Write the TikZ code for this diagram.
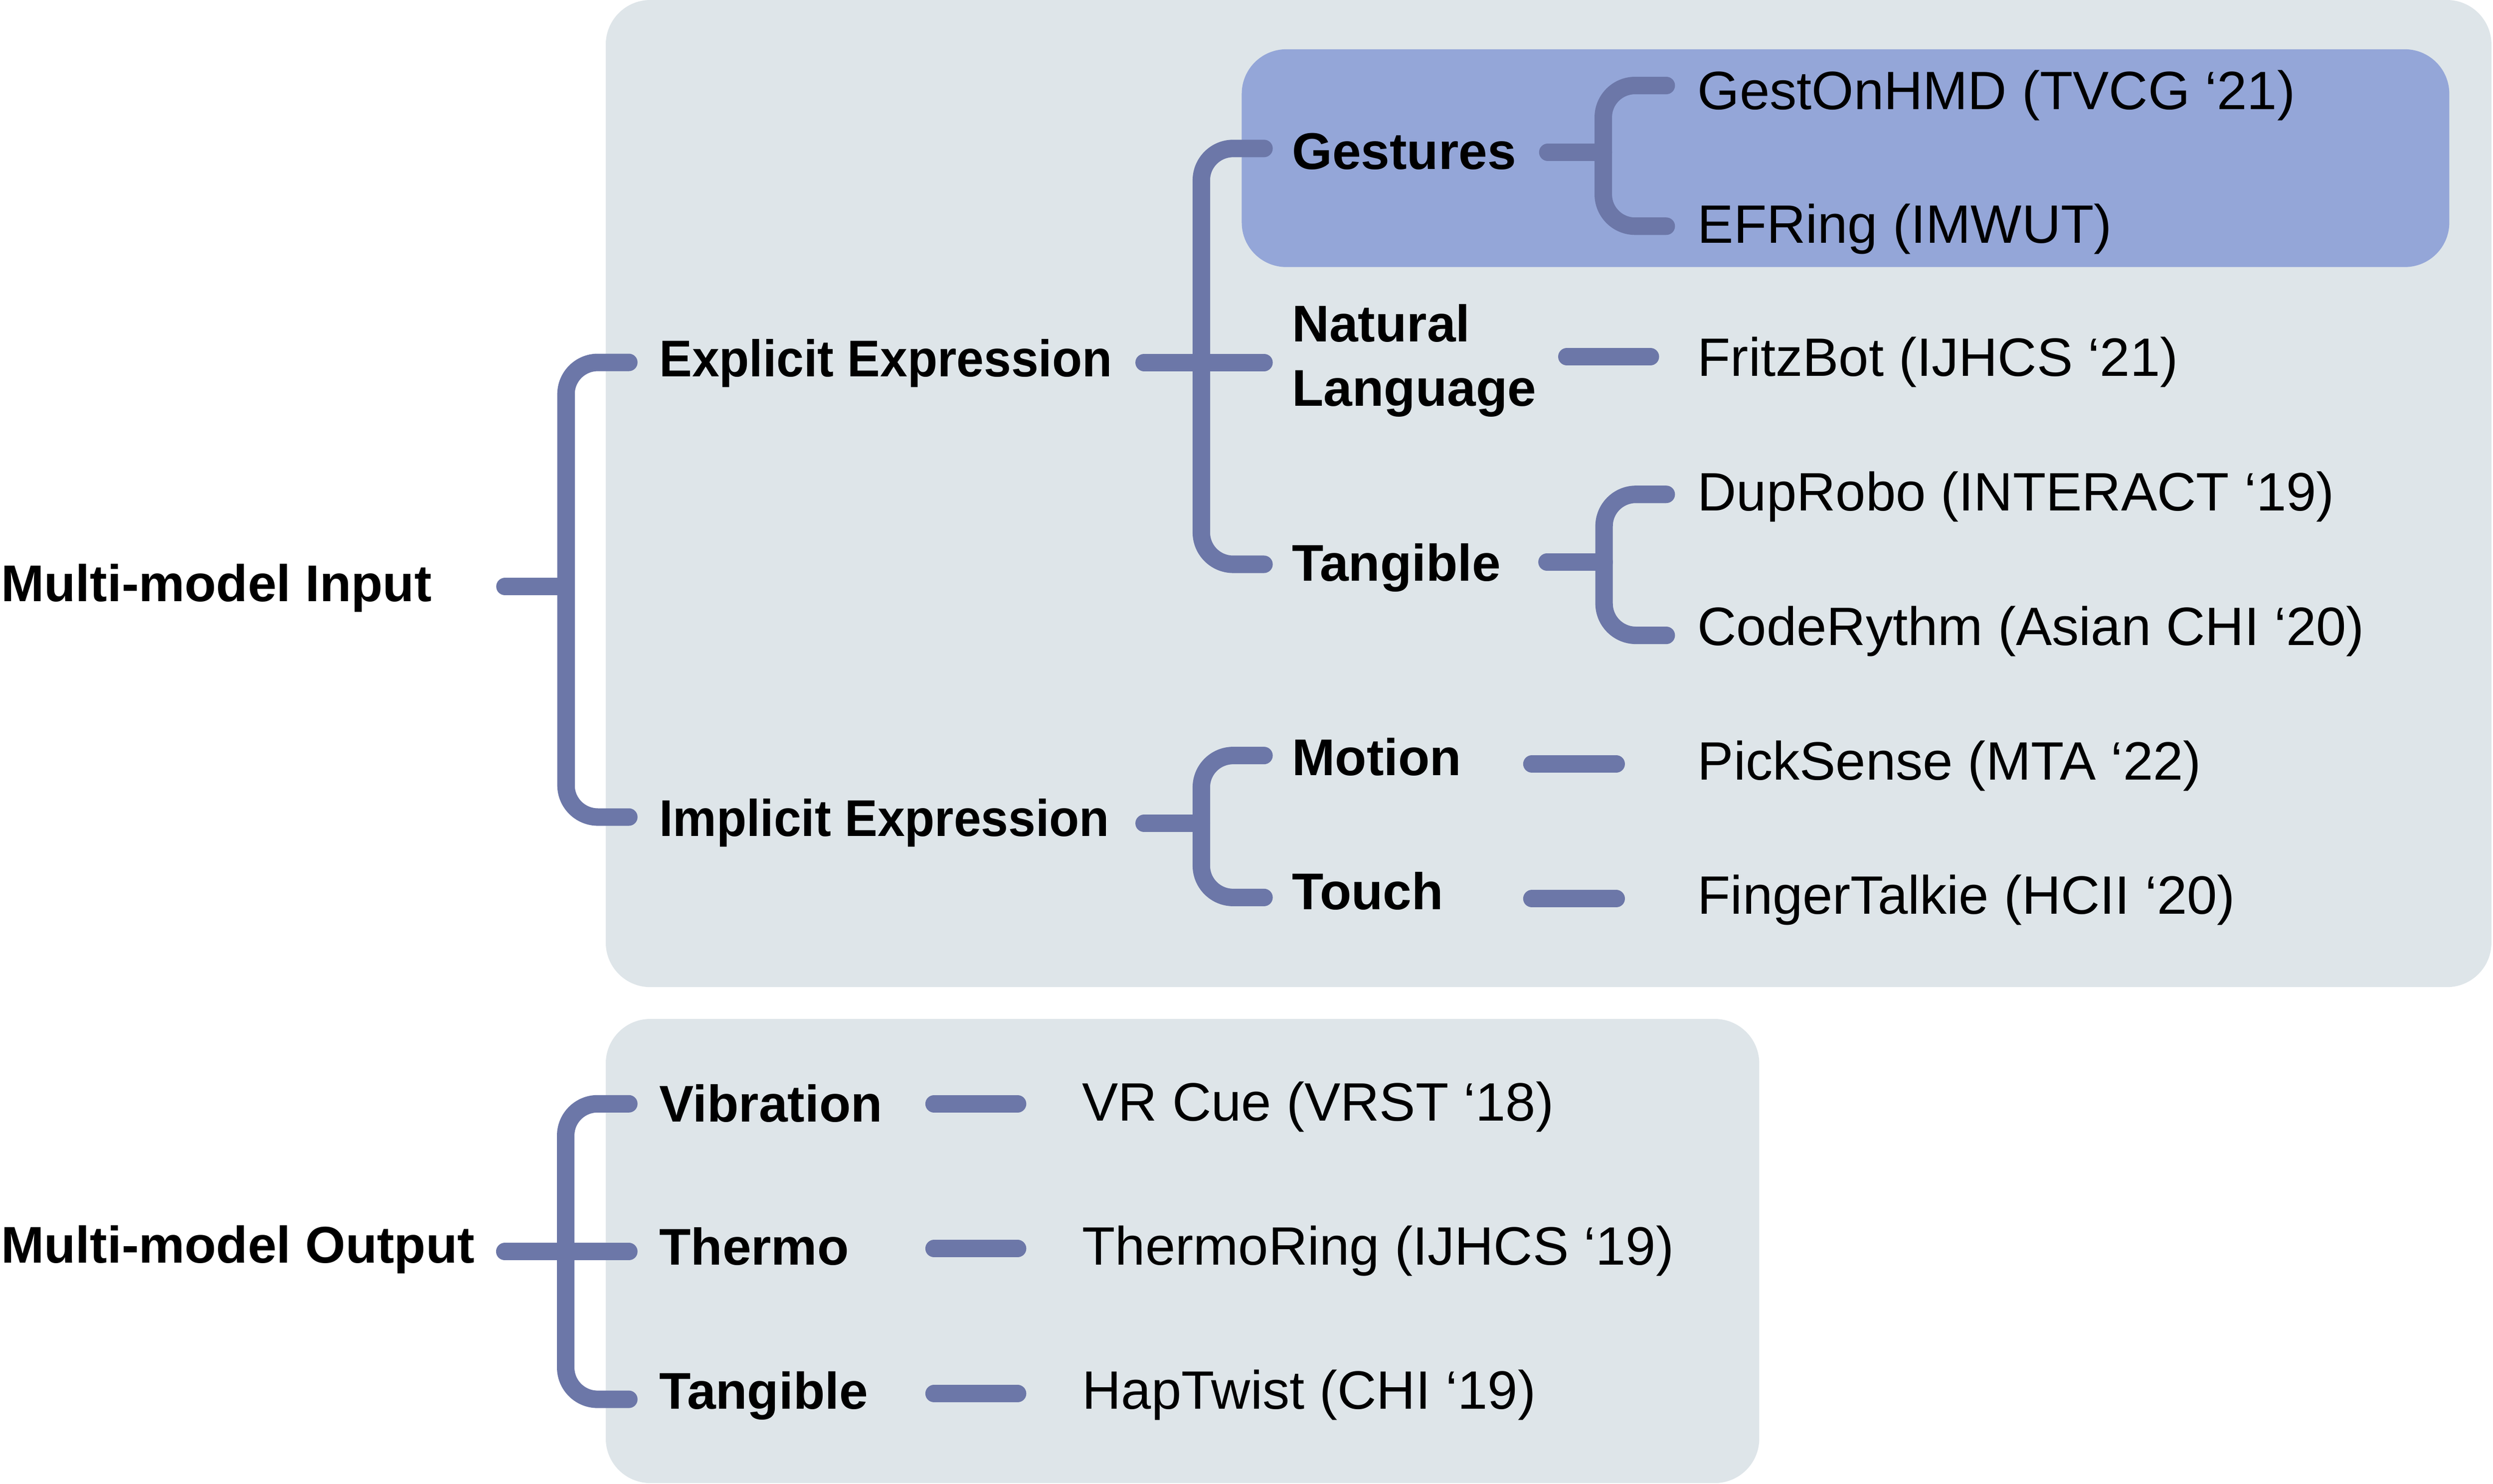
\documentclass[tikz,border=0pt]{standalone}
\usepackage{fontspec}
\setmainfont{Liberation Sans}
\definecolor{boxgray}{RGB}{222,229,233}
\definecolor{gestblue}{RGB}{148,166,216}
\definecolor{linecol}{RGB}{108,119,168}
\tikzset{
  lbl/.style={font=\fontsize{32.5}{40.5}\selectfont\bfseries, inner sep=0pt, anchor=base west, align=left},
  narrowlbl/.style={lbl, font=\fontsize{32.5}{40.5}\selectfont\bfseries\addfontfeature{FakeStretch=0.95}},
  refl/.style={font=\fontsize{34}{38}\selectfont, inner sep=0pt, anchor=base west},
  conn/.style={draw=linecol, line width=11pt, line cap=round, rounded corners=20pt},
  panel/.style={rounded corners=28pt, draw=none}
}
\begin{document}
\begin{tikzpicture}[x=1pt,y=-1pt]
\useasboundingbox (0,0) rectangle (1568,933.4);
% panels
\fill[boxgray, panel] (381,0) rectangle (1567,621);
\fill[gestblue, panel] (781,31) rectangle (1540.5,168);
\fill[boxgray, panel] (381,641) rectangle (1106.5,933);

% labels
\node[lbl] (mi) at (0.5,378.4) {Multi-model Input};
\node[lbl] (mo) at (0.5,794.6) {Multi-model Output};
\node[narrowlbl] (ee) at (414.5,237) {Explicit Expression};
\node[narrowlbl] (ie) at (414.5,526) {Implicit Expression};
\node[lbl] (ge) at (812.5,106.5) {Gestures};
\node[lbl] (nl) at (812.5,255.5) {Natural\\Language};
\node[lbl] (ta) at (812.5,365.6) {Tangible};
\node[lbl] (mt) at (812.5,487.7) {Motion};
\node[lbl] (to) at (812.5,572.3) {Touch};
\node[lbl] (vi) at (414.5,705.6) {Vibration};
\node[lbl] (th) at (414.5,795.8) {Thermo};
\node[lbl] (tb) at (414.5,886.4) {Tangible};

\node[refl] (r1) at (1067.5,68.9) {GestOnHMD (TVCG ‘21)};
\node[refl] (r2) at (1067.5,152.9) {EFRing (IMWUT)};
\node[refl] (r3) at (1067.5,236.5) {FritzBot (IJHCS ‘21)};
\node[refl] (r4) at (1067.5,321.2) {DupRobo (INTERACT ‘19)};
\node[refl] (r5) at (1067.5,405.9) {CodeRythm (Asian CHI ‘20)};
\node[refl] (r6) at (1067.5,490.5) {PickSense (MTA ‘22)};
\node[refl] (r7) at (1067.5,575) {FingerTalkie (HCII ‘20)};
\node[refl] (o1) at (680.5,705) {VR Cue (VRST ‘18)};
\node[refl] (o2) at (680.5,795.8) {ThermoRing (IJHCS ‘19)};
\node[refl] (o3) at (680.5,886.4) {HapTwist (CHI ‘19)};

% connector coordinates
\coordinate (mi-s) at (317.6,369);
\coordinate (mi-v) at (356,369);
\coordinate (ee-e) at (395.5,228);
\coordinate (ie-e) at (395.5,514);

\coordinate (ee-s) at (719.6,228);
\coordinate (ee-v) at (755.6,228);
\coordinate (nl-w) at (795,228);
\coordinate (ge-e) at (795,93.4);
\coordinate (ta-e) at (795,355);

\coordinate (ge-s) at (973.5,95.8);
\coordinate (ge-v) at (1008.4,95.8);
\coordinate (r1-e) at (1048,53.8);
\coordinate (r2-e) at (1048,142.3);

\coordinate (nl-s) at (985.5,224.4);
\coordinate (r3-e) at (1038,224.4);

\coordinate (ta-s) at (973,353.6);
\coordinate (ta-v) at (1008.9,353.6);
\coordinate (r4-e) at (1048,311);
\coordinate (r5-e) at (1048,399.7);

\coordinate (ie-s) at (719.6,518);
\coordinate (ie-v) at (755.6,518);
\coordinate (mt-e) at (795,475.3);
\coordinate (to-e) at (795,564.6);

\coordinate (mt-s) at (963.5,480.6);
\coordinate (r6-e) at (1016.5,480.6);
\coordinate (to-s) at (963.5,565.4);
\coordinate (r7-e) at (1016.5,565.4);

\coordinate (mo-s) at (317.5,787.4);
\coordinate (mo-v) at (355.8,787.4);
\coordinate (vi-e) at (395.5,694.4);
\coordinate (tb-e) at (395.5,880.3);
\coordinate (th-e) at (395.5,787.4);

\coordinate (vi-s) at (587.5,694.4);
\coordinate (o1-e) at (640,694.4);
\coordinate (th-s) at (587.5,785.5);
\coordinate (o2-e) at (640,785.5);
\coordinate (tb-s) at (587.5,876.7);
\coordinate (o3-e) at (640,876.7);

% connectors
\draw[conn] (ee-e) -| (mi-v) |- (ie-e);
\draw[conn] (mi-s) -- (mi-v);

\draw[conn] (ge-e) -| (ee-v) |- (ta-e);
\draw[conn] (ee-s) -- (nl-w);

\draw[conn] (r1-e) -| (ge-v) |- (r2-e);
\draw[conn] (ge-s) -- (ge-v);
\draw[conn] (nl-s) -- (r3-e);
\draw[conn] (r4-e) -| (ta-v) |- (r5-e);
\draw[conn] (ta-s) -- (ta-v);

\draw[conn] (mt-e) -| (ie-v) |- (to-e);
\draw[conn] (ie-s) -- (ie-v);
\draw[conn] (mt-s) -- (r6-e);
\draw[conn] (to-s) -- (r7-e);

\draw[conn] (vi-e) -| (mo-v) |- (tb-e);
\draw[conn] (mo-s) -- (th-e);
\draw[conn] (vi-s) -- (o1-e);
\draw[conn] (th-s) -- (o2-e);
\draw[conn] (tb-s) -- (o3-e);
\end{tikzpicture}
\end{document}
